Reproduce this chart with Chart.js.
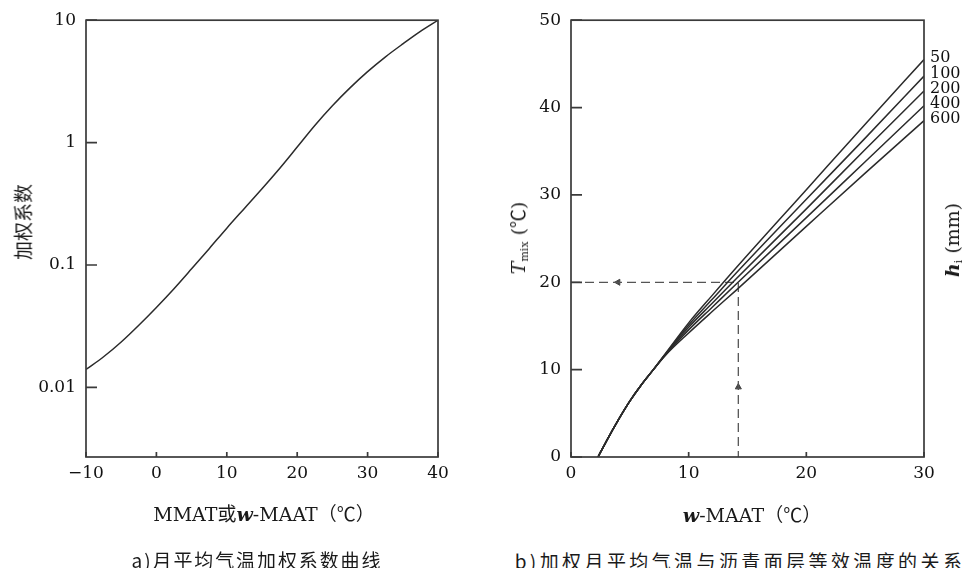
<!DOCTYPE html>
<html>
<head>
<meta charset="utf-8">
<script src="https://cdn.jsdelivr.net/npm/chart.js@4.4.1/dist/chart.umd.min.js"></script>
<style>
  html, body { margin: 0; padding: 0; background: #fff; }
  #page { position: relative; width: 965px; height: 568px; overflow: hidden; }
  canvas { position: absolute; top: 0; }
  #chartA { left: 0; }
  #chartB { left: 480px; }
  .lbl {
    position: absolute; white-space: nowrap; color: #1a1a1a;
    font-family: 'DejaVu Serif', 'Noto Sans CJK SC', serif; font-size: 19px;
    transform: translate(-50%, -50%);
  }
  .rot { transform: translate(-50%, -50%) rotate(-90deg); }
  .cjk { font-family: 'Noto Sans CJK SC', sans-serif; }
  .lbl sub { font-size: 11px; vertical-align: -3px; }
</style>
</head>
<body>
<div id="page">
  <canvas id="chartA" width="480" height="540"></canvas>
  <canvas id="chartB" width="485" height="540"></canvas>

  <div class="lbl rot cjk" style="left:22px; top:222px;">加权系数</div>
  <div class="lbl" style="left:264px; top:512px;">MMAT<span class="cjk">或</span><b><i>w</i></b>-MAAT<span class="cjk">（℃）</span></div>
  <div class="lbl cjk" style="left:257px; top:559px; letter-spacing:1.9px;">a)月平均气温加权系数曲线</div>

  <div class="lbl rot" style="left:517px; top:238px;"><i>T</i><sub>mix</sub> (<span class="cjk">℃</span>)</div>
  <div class="lbl rot" style="left:953px; top:240px;"><b><i>h</i></b><sub>i</sub> (mm)</div>
  <div class="lbl" style="left:752px; top:513px;"><b><i>w</i></b>-MAAT<span class="cjk">（℃）</span></div>
  <div class="lbl cjk" style="left:740px; top:560px; letter-spacing:3.4px;">b)加权月平均气温与沥青面层等效温度的关系</div>
</div>

<script>
// a) weighting factor vs monthly mean air temperature
const tempA = [-10, -7.5, -5, -2.5, 0, 2.5, 5, 7.5, 10, 12.5, 15, 17.5, 20, 22.5, 25, 27.5, 30, 32.5, 35, 37.5, 40];
const weightA = [0.014, 0.0178, 0.0235, 0.0322, 0.045, 0.064, 0.093, 0.136, 0.20, 0.29, 0.42, 0.615, 0.92, 1.38, 2.0, 2.8, 3.8, 5.0, 6.4, 8.1, 10];
const weightTicks = [0.01, 0.1, 1, 10];
const weightTickLabels = ['0.01', '0.1', '1', '10'];

// b) w-MAAT vs T_mix for several layer thicknesses
const wMaat = [2.3, 3, 4, 5, 6, 7, 8, 10, 12, 14, 20, 25, 30];
const thickness = ['50', '100', '200', '400', '600'];
const tmix50  = [0, 1.8, 4.2, 6.4, 8.3, 10.0, 11.8, 15.35, 18.5, 21.6, 30.6, 38.1, 45.5];
const tmix100 = [0, 1.8, 4.2, 6.4, 8.3, 10.0, 11.75, 15.1, 18.05, 21.0, 29.5, 36.5, 43.6];
const tmix200 = [0, 1.8, 4.2, 6.4, 8.3, 10.0, 11.7, 14.85, 17.6, 20.35, 28.4, 35.2, 41.9];
const tmix400 = [0, 1.8, 4.2, 6.4, 8.3, 10.0, 11.65, 14.55, 17.15, 19.75, 27.4, 33.8, 40.2];
const tmix600 = [0, 1.8, 4.2, 6.4, 8.3, 10.0, 11.6, 14.2, 16.65, 19.05, 26.4, 32.5, 38.5];
const guideX = [0, 14.22, 14.22];
const guideY = [20, 20, 0];
const arrowX = [4, 14.22];
const arrowY = [20, 8];

const INK = '#111';
const LINE = '#2b2b2b';
const tickFont = { family: "'DejaVu Serif', serif", size: 17 };

const pts = (xs, ys) => xs.map((x, i) => ({ x, y: ys[i] }));

// box round the plot and short ticks pointing inwards
const framePlugin = {
  id: 'frame',
  afterDatasetsDraw(chart) {
    const { ctx, chartArea: a, scales: { x, y } } = chart;
    ctx.save();
    ctx.strokeStyle = '#3a3a3a';
    ctx.lineWidth = 1.7;
    ctx.strokeRect(a.left, a.top, a.right - a.left, a.bottom - a.top);
    ctx.beginPath();
    y.ticks.forEach(t => {
      const py = y.getPixelForValue(t.value);
      ctx.moveTo(a.left, py); ctx.lineTo(a.left + 11, py);
    });
    x.ticks.forEach(t => {
      const px = x.getPixelForValue(t.value);
      ctx.moveTo(px, a.bottom); ctx.lineTo(px, a.bottom - 5);
    });
    ctx.stroke();
    ctx.restore();
  }
};

// thickness labels at the right end of each curve
const endLabels = {
  id: 'endLabels',
  afterDatasetsDraw(chart) {
    const { ctx, chartArea: a } = chart;
    ctx.save();
    ctx.fillStyle = INK;
    ctx.font = "16px 'DejaVu Serif', serif";
    ctx.textBaseline = 'middle';
    chart.data.datasets.forEach((ds, i) => {
      if (!ds.endLabel) return;
      const meta = chart.getDatasetMeta(i);
      const last = meta.data[meta.data.length - 1];
      ctx.fillText(ds.endLabel, a.right + 6, last.y - 2);
    });
    ctx.restore();
  }
};

function fixedSize(w, h) {
  return scale => {
    if (w != null) scale.width = w;
    if (h != null) scale.height = h;
  };
}

const curveStyle = {
  borderColor: LINE,
  borderWidth: 1.5,
  pointRadius: 0,
  cubicInterpolationMode: 'monotone',
  fill: false
};

new Chart(document.getElementById('chartA'), {
  type: 'line',
  data: {
    datasets: [{ ...curveStyle, data: pts(tempA, weightA) }]
  },
  options: {
    responsive: false,
    animation: false,
    layout: { padding: { left: 0, top: 18, right: 42, bottom: 0 } },
    plugins: { legend: { display: false }, tooltip: { enabled: false } },
    scales: {
      x: {
        type: 'linear', min: -10, max: 40,
        ticks: { stepSize: 10, color: INK, font: tickFont, padding: 6, maxRotation: 0,
                 callback: v => (v < 0 ? '\u2212' + Math.abs(v) : String(v)) },
        grid: { display: false, drawTicks: false },
        border: { display: false },
        afterFit: fixedSize(null, 83)
      },
      y: {
        type: 'logarithmic', min: 0.0027, max: 10,
        afterBuildTicks: scale => { scale.ticks = weightTicks.map(v => ({ value: v })); },
        ticks: { color: INK, font: tickFont, padding: 10,
                 callback: (v, i) => weightTickLabels[i] },
        grid: { display: false, drawTicks: false },
        border: { display: false },
        afterFit: fixedSize(86, null)
      }
    }
  },
  plugins: [framePlugin]
});

const tmixSeries = [tmix50, tmix100, tmix200, tmix400, tmix600];

new Chart(document.getElementById('chartB'), {
  type: 'line',
  data: {
    datasets: [
      ...tmixSeries.map((s, i) => ({ ...curveStyle, data: pts(wMaat, s), endLabel: thickness[i] })),
      {
        data: pts(guideX, guideY),
        borderColor: '#555', borderWidth: 1.3, borderDash: [9, 5],
        pointRadius: 0, tension: 0, fill: false
      },
      {
        data: pts(arrowX, arrowY),
        showLine: false,
        pointStyle: 'triangle', pointRadius: 3.5,
        pointRotation: [270, 0],
        pointBackgroundColor: '#444', pointBorderColor: '#444', pointBorderWidth: 1
      }
    ]
  },
  options: {
    responsive: false,
    animation: false,
    layout: { padding: { left: 0, top: 17, right: 41, bottom: 0 } },
    plugins: { legend: { display: false }, tooltip: { enabled: false } },
    scales: {
      x: {
        type: 'linear', min: 0, max: 30,
        ticks: { stepSize: 10, color: INK, font: tickFont, padding: 6, maxRotation: 0 },
        grid: { display: false, drawTicks: false },
        border: { display: false },
        afterFit: fixedSize(null, 83)
      },
      y: {
        type: 'linear', min: 0, max: 50,
        ticks: { stepSize: 10, color: INK, font: tickFont, padding: 10 },
        grid: { display: false, drawTicks: false },
        border: { display: false },
        afterFit: fixedSize(91, null)
      }
    }
  },
  plugins: [framePlugin, endLabels]
});
</script>
</body>
</html>
